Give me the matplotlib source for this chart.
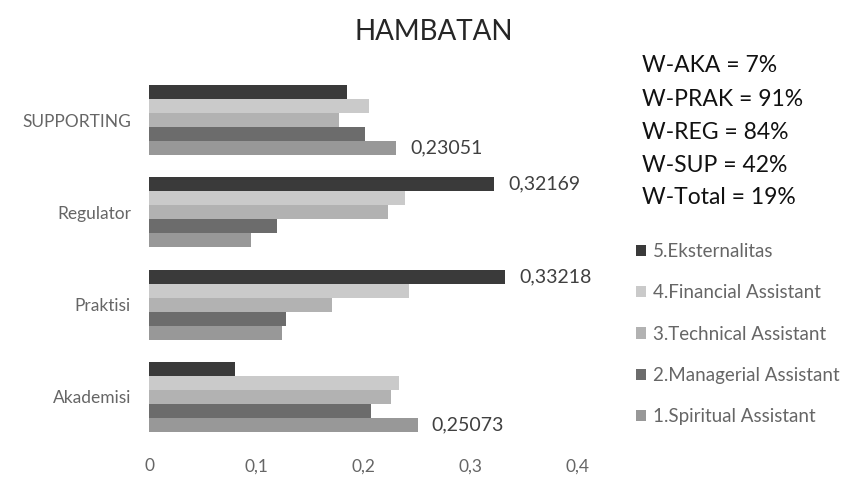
import matplotlib
matplotlib.use("Agg")
import matplotlib.pyplot as plt
import numpy as np

plt.rcParams['font.family'] = ['Lato', 'DejaVu Sans']

# categories from bottom to top
categories = ['Akademisi', 'Praktisi', 'Regulator', 'SUPPORTING']
series_names = ['1.Spiritual Assistant', '2.Managerial Assistant',
                '3.Technical Assistant', '4.Financial Assistant',
                '5.Eksternalitas']
spiritual = [0.25073, 0.124, 0.095, 0.23051]
managerial = [0.207, 0.128, 0.119, 0.201]
technical = [0.226, 0.171, 0.223, 0.177]
financial = [0.233, 0.242, 0.239, 0.205]
eksternalitas = [0.080, 0.33218, 0.32169, 0.185]
series_values = [spiritual, managerial, technical, financial, eksternalitas]

# only a few bars carry their value as a label
shown_labels = {
    0: [0, 3],   # spiritual: Akademisi, SUPPORTING
    4: [1, 2],   # eksternalitas: Praktisi, Regulator
}

weights = ['W-AKA = 7%', 'W-PRAK = 91%', 'W-REG = 84%',
           'W-SUP = 42%', 'W-Total = 19%']

colors = ['#989898', '#6c6c6c', '#b2b2b2', '#cacaca', '#3a3a3a']

fig = plt.figure(figsize=(8.5, 4.83), dpi=100)
ax = fig.add_axes([0.1753, 0.0828, 0.5047, 0.764])

y = np.arange(len(categories))
h = 0.152
for i, (vals, name, col) in enumerate(zip(series_values, series_names, colors)):
    bars = ax.barh(y + (i - 2) * h, vals, height=h, color=col, label=name)
    if i in shown_labels:
        labels = [f'{v:.5f}'.replace('.', ',') if k in shown_labels[i] else ''
                  for k, v in enumerate(vals)]
        ax.bar_label(bars, labels=labels, padding=10, fontsize=14, color='#404040')

ax.set_xlim(0, 0.4)
ax.set_ylim(-0.5, 3.5)
ax.set_xticks([0, 0.1, 0.2, 0.3, 0.4])
ax.set_xticklabels(['0', '0,1', '0,2', '0,3', '0,4'])
ax.set_yticks(y)
ax.set_yticklabels(categories)
ax.tick_params(axis='x', length=0, pad=11, labelsize=12.5, labelcolor='#666666')
ax.tick_params(axis='y', length=0, pad=13, labelsize=12.5, labelcolor='#666666')
for s in ax.spines.values():
    s.set_visible(False)

fig.text(0.51, 0.933, 'HAMBATAN', ha='center', va='center',
         fontsize=20, color='#262626')

for k, w in enumerate(weights):
    fig.text(0.755, 1 - (66 + k * 33) / 483, w, ha='left', va='center',
             fontsize=16.5, color='#111111')

handles, labels = ax.get_legend_handles_labels()
fig.legend(handles[::-1], labels[::-1], loc='upper left',
           bbox_to_anchor=(0.728, 1 - 226 / 483), frameon=False,
           fontsize=13.5, labelcolor='#666666', handlelength=0.55,
           handleheight=0.55, handletextpad=0.35, labelspacing=1.3)

fig.savefig('out.png', dpi=100)
